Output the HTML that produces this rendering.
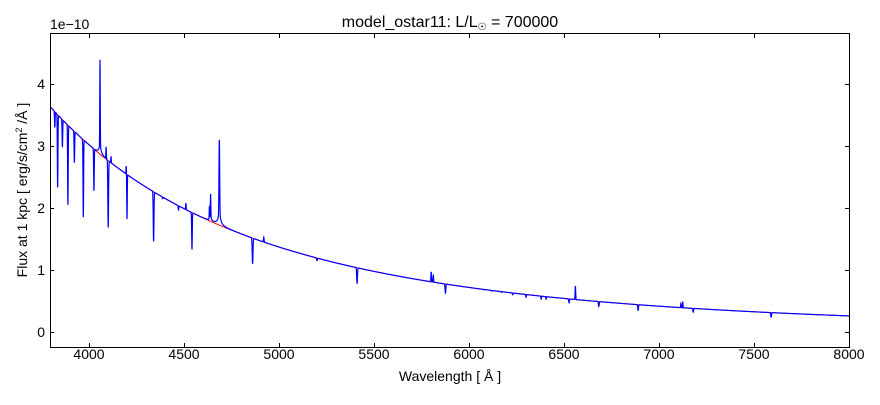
<!DOCTYPE html>
<html><head><meta charset="utf-8"><style>
body{margin:0;background:#fff;width:880px;height:400px;overflow:hidden;font-family:"Liberation Sans",sans-serif}
svg text{font-family:"Liberation Sans",sans-serif;fill:#000}
</style></head><body>
<svg id="s" width="880" height="400" xmlns="http://www.w3.org/2000/svg">
<rect width="880" height="400" fill="#fff"/>
<g id="plot"></g>
<rect x="50.5" y="33.5" width="799" height="314" fill="none" stroke="#000" stroke-width="1"/>
<g id="ticks" stroke="#000" stroke-width="1"></g>
<g font-size="14" id="labels"></g>
<text x="50" y="29" font-size="14">1e−10</text>
<text x="450" y="27" font-size="16" text-anchor="middle">model_ostar11: L/L<tspan font-size="10" dy="3">☉</tspan><tspan dy="-3"> = 700000</tspan></text>
<text x="450" y="381" font-size="14" text-anchor="middle">Wavelength [ Å ]</text>
<text transform="translate(27,190) rotate(-90)" font-size="14" text-anchor="middle">Flux at 1 kpc [ erg/s/cm<tspan font-size="9" dy="-5">2</tspan><tspan dy="5"> /Å ]</tspan></text>
</svg>
<script>
const X=l=>51+(l-3800)*0.19, Y=f=>332-f*62;
const cont=l=>3.62*Math.pow(3800/l,3.54);
const feats=[
[3820,3.3,1.5],[3835,2.33,1.5],[3860,2.98,1.5],[3889,2.05,1.5],[3923,2.73,1.5],[3970,1.85,1.5],[4026,2.27,1.5],[4101,1.68,1.8],[4200,1.82,1.3],[4340,1.46,1.8],[4388,2.15,1.5],[4471,1.97,1.5],[4542,1.33,1.5],[4861,1.1,2],[5200,1.15,2],[5411,0.78,2],[5876,0.63,2],[6000,0.72,1.5],[6040,0.7,1.5],[6080,0.68,1.5],[6120,0.66,1.5],[6170,0.64,1.5],[6230,0.6,1.5],[6300,0.56,1.5],[6380,0.53,1.5],[6406,0.53,1.5],[6527,0.47,2],[6683,0.41,2],[6890,0.35,2],[7180,0.32,2],[7590,0.24,2],
[4058,4.27,1.2],[4090,2.98,1.2],[4116,2.83,1.2],[4196,2.68,1.2],[4634,2.0,1.2],[4640,2.16,1.2],[4686,2.95,1.8],[5801,0.97,1.5],[5812,0.91,1.5],[6560,0.74,1.5],[7115,0.46,1.2],[7125,0.49,1.2],[4510,2.08,1.2],[4920,1.53,1.5]];
let red="",blue="";
for(let l=3800;l<=8000;l+=0.5){
 const c=cont(l);let f=c;
 for(const [lc,v,s] of feats){const d=(l-lc)/s;if(Math.abs(d)<6)f+=(v-cont(lc))*Math.exp(-d*d/2);}
 f+=0.15/(1+((l-4686)/10)**2)+0.12/(1+((l-4058)/8)**2)+0.06/(1+((l-4640)/6)**2);
 red+=(l==3800?"M":"L")+X(l).toFixed(2)+","+Y(c).toFixed(2);
 blue+=(l==3800?"M":"L")+X(l).toFixed(2)+","+Y(f).toFixed(2);
}
const g=document.getElementById("plot");
g.innerHTML=`<clipPath id="c"><rect x="50.5" y="33.5" width="799" height="314"/></clipPath><g clip-path="url(#c)"><path d="${red}" fill="none" stroke="#f00" stroke-width="1"/><path d="${blue}" fill="none" stroke="#00f" stroke-width="1.2"/></g>`;
let t="",lb="";
for(let l=4000;l<=8000;l+=500){const x=X(l)+0.5;t+=`<line x1="${x}" y1="347" x2="${x}" y2="343"/><line x1="${x}" y1="34" x2="${x}" y2="38"/>`;lb+=`<text x="${X(l)}" y="359" text-anchor="middle">${l}</text>`;}
for(let v=0;v<=4;v++){const y=Y(v)+0.5;t+=`<line x1="50" y1="${y}" x2="54" y2="${y}"/><line x1="849" y1="${y}" x2="845" y2="${y}"/>`;lb+=`<text x="45" y="${Y(v)+5}" text-anchor="end">${v}</text>`;}
document.getElementById("ticks").innerHTML=t;
document.getElementById("labels").innerHTML=lb;
</script>
</body></html>
